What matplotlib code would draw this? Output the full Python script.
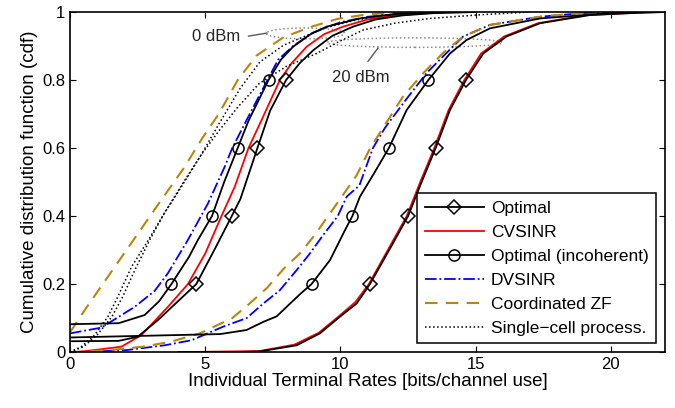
import matplotlib
matplotlib.use("Agg")
from matplotlib import pyplot as plt
from matplotlib.patches import Ellipse

plt.rcParams['font.family'] = ['Liberation Sans', 'DejaVu Sans']

# ---- 0 dBm curves (rate, cdf) ----
opt0_x = [0, 1.8, 2.5, 3.25, 4.0, 4.67, 5.4, 5.98, 6.3, 6.93, 7.4, 7.99, 8.5, 9.0, 9.7, 10.47, 11.3, 12.3, 13.5, 15.0]
opt0_y = [0.032, 0.033, 0.045, 0.094, 0.15, 0.2, 0.31, 0.4, 0.45, 0.6, 0.71, 0.8, 0.85, 0.888, 0.93, 0.957, 0.978, 0.99, 0.997, 1.0]

cv0_x = [0.25, 1.0, 1.9, 2.64, 3.62, 4.36, 5.0, 5.6, 6.09, 6.6, 7.07, 7.76, 8.2, 8.75, 9.4, 10.1, 11.0, 12.0, 13.5, 15.0]
cv0_y = [0.0, 0.007, 0.016, 0.05, 0.133, 0.2, 0.29, 0.4, 0.486, 0.6, 0.68, 0.8, 0.85, 0.898, 0.935, 0.957, 0.978, 0.99, 0.998, 1.0]

inc0_x = [0, 1.8, 2.76, 3.3, 3.75, 4.4, 4.73, 5.25, 5.7, 6.2, 6.6, 7.34, 7.8, 8.25, 8.9, 9.49, 10.72, 12.0, 14.0]
inc0_y = [0.082, 0.085, 0.109, 0.15, 0.2, 0.28, 0.33, 0.4, 0.5, 0.6, 0.68, 0.8, 0.86, 0.898, 0.935, 0.957, 0.981, 0.994, 1.0]

dv0_x = [0, 1.16, 2.39, 3.13, 3.62, 4.36, 5.1, 5.72, 6.0, 6.58, 7.3, 7.7, 8.25, 9.0, 10.0, 11.0, 12.5, 14.0]
dv0_y = [0.055, 0.072, 0.133, 0.18, 0.232, 0.33, 0.437, 0.545, 0.6, 0.69, 0.8, 0.86, 0.9, 0.94, 0.97, 0.986, 0.996, 1.0]

zf0_x = [0, 0.6, 1.3, 2.0, 2.7, 3.4, 4.2, 4.9, 5.5, 6.2, 6.9, 7.9, 8.9, 9.9, 11.0, 12.5]
zf0_y = [0.058, 0.13, 0.21, 0.29, 0.37, 0.45, 0.54, 0.63, 0.7, 0.8, 0.872, 0.926, 0.956, 0.98, 0.993, 1.0]

sc0_x = [0, 0.42, 0.91, 1.4, 1.77, 2.27, 2.9, 3.5, 3.99, 4.85, 5.5, 6.28, 7.02, 7.89, 8.75, 9.5, 10.5, 11.5, 13.0]
sc0_y = [0.0, 0.016, 0.05, 0.104, 0.163, 0.25, 0.33, 0.41, 0.47, 0.58, 0.67, 0.774, 0.853, 0.902, 0.931, 0.955, 0.975, 0.99, 1.0]

# ---- 20 dBm curves (rate, cdf) ----
opt20_x = [4.0, 6.0, 7.02, 8.38, 9.24, 9.98, 10.6, 11.09, 11.8, 12.5, 13.0, 13.52, 14.05, 14.64, 15.28, 16.14, 17.38, 19.22, 21.07, 22.0]
opt20_y = [0.0, 0.0, 0.002, 0.02, 0.055, 0.104, 0.143, 0.2, 0.3, 0.4, 0.5, 0.6, 0.712, 0.8, 0.878, 0.928, 0.967, 0.991, 0.998, 1.0]

cv20_x = [4.0, 7.0, 8.3, 9.2, 9.95, 10.55, 11.05, 11.75, 12.45, 12.95, 13.47, 14.0, 14.58, 15.2, 16.05, 17.3, 19.1, 21.0, 22.0]
cv20_y = [0.0, 0.003, 0.022, 0.057, 0.106, 0.147, 0.2, 0.3, 0.4, 0.5, 0.6, 0.712, 0.8, 0.878, 0.928, 0.967, 0.991, 0.998, 1.0]

inc20_x = [0, 5.55, 6.53, 7.15, 7.64, 8.01, 8.5, 8.93, 9.61, 10.17, 10.44, 10.72, 11.2, 11.79, 12.45, 13.25, 14.05, 14.67, 15.53, 17.38, 19.84, 21.5]
inc20_y = [0.043, 0.053, 0.065, 0.089, 0.105, 0.133, 0.17, 0.2, 0.27, 0.359, 0.4, 0.457, 0.52, 0.6, 0.712, 0.8, 0.878, 0.918, 0.952, 0.981, 0.996, 1.0]

dv20_x = [0.5, 2.1, 3.5, 4.5, 5.67, 6.53, 7.15, 7.76, 8.38, 8.87, 9.36, 9.9, 10.23, 10.7, 11.2, 11.65, 12.4, 13.18, 13.8, 14.54, 15.53, 17.38, 19.0, 20.0]
dv20_y = [0.0, 0.006, 0.02, 0.035, 0.075, 0.1, 0.143, 0.182, 0.241, 0.29, 0.344, 0.4, 0.457, 0.49, 0.6, 0.66, 0.74, 0.82, 0.87, 0.928, 0.962, 0.986, 0.997, 1.0]

zf20_x = [0, 1.5, 2.7, 3.7, 4.8, 6.0, 6.6, 7.3, 7.9, 8.5, 9.0, 9.9, 10.6, 11.1, 11.58, 12.3, 13.06, 13.8, 14.54, 15.53, 17.38, 18.6, 19.5]
zf20_y = [0.0, 0.006, 0.016, 0.03, 0.055, 0.1, 0.14, 0.19, 0.245, 0.29, 0.339, 0.44, 0.52, 0.6, 0.66, 0.75, 0.82, 0.88, 0.928, 0.962, 0.986, 0.995, 1.0]

sc20_x = [0, 0.5, 1.0, 1.55, 1.95, 2.45, 2.95, 3.5, 4.2, 4.85, 5.5, 6.2, 7.0, 8.0, 9.12, 10.0, 10.84, 12.0, 13.3, 15.2, 17.0]
sc20_y = [0.0, 0.016, 0.05, 0.104, 0.163, 0.25, 0.33, 0.41, 0.5, 0.58, 0.65, 0.72, 0.79, 0.84, 0.878, 0.915, 0.947, 0.967, 0.981, 0.992, 1.0]

marker_levels = [0.2, 0.4, 0.6, 0.8]
gold = '#B8860B'


def marks(ys):
    return [i for i, v in enumerate(ys) if v in marker_levels]


fig = plt.figure(figsize=(6.75, 4.08), dpi=100)
ax = fig.add_axes([0.1037, 0.137, 0.8815, 0.8336])

lw = 1.3
# red drawn under the black optimal curves
h_cv, = ax.plot(cv0_x, cv0_y, color='red', lw=lw, zorder=2)
ax.plot(cv20_x, cv20_y, color='red', lw=lw, zorder=2)

h_opt, = ax.plot(opt0_x, opt0_y, 'k-', lw=lw, marker='D', ms=7, mfc='none', mew=1.1,
                 markevery=marks(opt0_y), zorder=3)
ax.plot(opt20_x, opt20_y, 'k-', lw=lw, marker='D', ms=7, mfc='none', mew=1.1,
        markevery=marks(opt20_y), zorder=3)

h_inc, = ax.plot(inc0_x, inc0_y, 'k-', lw=lw, marker='o', ms=8, mfc='none', mew=1.1,
                 markevery=marks(inc0_y), zorder=3)
ax.plot(inc20_x, inc20_y, 'k-', lw=lw, marker='o', ms=8, mfc='none', mew=1.1,
        markevery=marks(inc20_y), zorder=3)

h_dv, = ax.plot(dv0_x, dv0_y, color='blue', ls='-.', lw=lw, zorder=2)
ax.plot(dv20_x, dv20_y, color='blue', ls='-.', lw=lw, zorder=2)

h_zf, = ax.plot(zf0_x, zf0_y, color=gold, ls=(0, (6, 4)), lw=1.5, zorder=2)
ax.plot(zf20_x, zf20_y, color=gold, ls=(0, (6, 4)), lw=1.5, zorder=2)

h_sc, = ax.plot(sc0_x, sc0_y, 'k:', lw=1.1, zorder=2)
ax.plot(sc20_x, sc20_y, 'k:', lw=1.1, zorder=2)

# annotations
ax.add_patch(Ellipse((8.7, 0.937), 2.9, 0.032, fill=False, ec='0.55', ls=':', lw=1.1))
ax.add_patch(Ellipse((12.75, 0.91), 6.5, 0.028, fill=False, ec='0.55', ls=':', lw=1.1))
ax.plot([6.6, 7.28], [0.929, 0.938], color='0.35', lw=1)
ax.plot([11.02, 11.39], [0.855, 0.894], color='0.35', lw=1)
ax.text(5.4, 0.929, '0 dBm', ha='center', va='center', fontsize=12, color='0.15')
ax.text(10.76, 0.806, '20 dBm', ha='center', va='center', fontsize=12, color='0.15')

ax.set_xlim(0, 22)
ax.set_ylim(0, 1)
ax.set_xticks([0, 5, 10, 15, 20])
ax.set_yticks([0, 0.2, 0.4, 0.6, 0.8, 1])
ax.set_yticklabels(['0', '0.2', '0.4', '0.6', '0.8', '1'])
ax.tick_params(direction='in', top=True, right=True, labelsize=12, length=4)
for s in ax.spines.values():
    s.set_linewidth(1.2)
ax.set_xlabel('Individual Terminal Rates [bits/channel use]', fontsize=13.5, labelpad=1)
ax.set_ylabel('Cumulative distribution function (cdf)', fontsize=13.5, labelpad=3)

leg = ax.legend([h_opt, h_cv, h_inc, h_dv, h_zf, h_sc],
                ['Optimal', 'CVSINR', 'Optimal (incoherent)', 'DVSINR',
                 'Coordinated ZF', 'Single\u2212cell process.'],
                loc='lower right', fontsize=12.5, handlelength=3.4, numpoints=1,
                fancybox=False, framealpha=1, edgecolor='black',
                borderaxespad=0.5, labelspacing=0.5, handletextpad=0.4,
                borderpad=0.45)
leg.get_frame().set_linewidth(1.1)

fig.savefig('out.png', dpi=100)
